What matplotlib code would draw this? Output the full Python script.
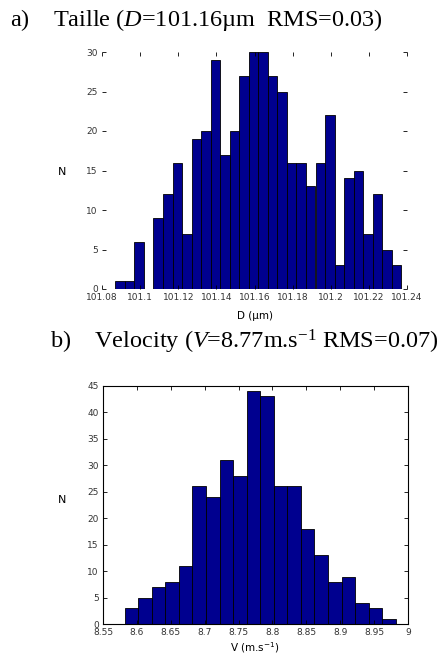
import numpy as np
import matplotlib
matplotlib.use("Agg")
import matplotlib.pyplot as plt

# ---- data ----
d_start = 101.087
d_width = 0.005
d_counts = [1, 1, 6, 0, 9, 12, 16, 7, 19, 20, 29, 17, 20, 27, 30, 30, 27, 25,
            16, 16, 13, 16, 22, 3, 14, 15, 7, 12, 5, 3]
d_ticks = [101.08, 101.10, 101.12, 101.14, 101.16, 101.18, 101.20, 101.22, 101.24]
d_ticklabels = ["101.08", "101.1", "101.12", "101.14", "101.16", "101.18", "101.2", "101.22", "101.24"]
d_yticks = [0, 5, 10, 15, 20, 25, 30]

v_start = 8.582
v_width = 0.02
v_counts = [3, 5, 7, 8, 11, 26, 24, 31, 28, 44, 43, 26, 26, 18, 13, 8, 9, 4, 3, 1]
v_ticks = [8.55, 8.6, 8.65, 8.7, 8.75, 8.8, 8.85, 8.9, 8.95, 9.0]
v_ticklabels = ["8.55", "8.6", "8.65", "8.7", "8.75", "8.8", "8.85", "8.9", "8.95", "9"]
v_yticks = [0, 5, 10, 15, 20, 25, 30, 35, 40, 45]

title_a = r"a)    Taille ($\mathit{D}$=101.16µm  RMS=0.03)"
title_b = r"b)    Velocity ($\mathit{V}$=8.77m.s$^{\mathregular{-1}}$ RMS=0.07)"

plt.rcParams['mathtext.fontset'] = 'custom'
plt.rcParams['mathtext.rm'] = 'Liberation Serif'
plt.rcParams['mathtext.it'] = 'Liberation Serif:italic'

W, H = 444, 658
fig = plt.figure(figsize=(W / 100, H / 100), dpi=100)

bar_color = "#00008f"

def edges(start, width, n):
    return start + width * np.arange(n)

# top axes
ax1 = fig.add_axes([102 / W, 1 - 289 / H, 305 / W, 237 / H])
x1 = edges(d_start, d_width, len(d_counts))
ax1.bar(x1, d_counts, width=d_width, align='edge', color=bar_color,
        edgecolor='black', linewidth=0.6)
ax1.set_xlim(101.08, 101.24)
ax1.set_ylim(0, 30)
ax1.set_xticks(d_ticks)
ax1.set_xticklabels(d_ticklabels)
ax1.set_yticks(d_yticks)
for s in ax1.spines.values():
    s.set_visible(False)

# bottom axes
ax2 = fig.add_axes([103 / W, 1 - 624.3 / H, 305 / W, 238.6 / H])
x2 = edges(v_start, v_width, len(v_counts))
ax2.bar(x2, v_counts, width=v_width, align='edge', color=bar_color,
        edgecolor='black', linewidth=0.6)
ax2.set_xlim(8.55, 9.0)
ax2.set_ylim(0, 45)
ax2.set_xticks(v_ticks)
ax2.set_xticklabels(v_ticklabels)
ax2.set_yticks(v_yticks)
for s in ax2.spines.values():
    s.set_linewidth(0.8)

for ax in (ax1, ax2):
    ax.tick_params(direction='in', length=3, width=0.6, top=True, right=True,
                   labelsize=6.5, labelcolor='#333333', pad=3)

ax1.text(62 / W, 1 - 172 / H, "N", transform=fig.transFigure, fontsize=8,
         ha='center', va='center')
ax2.text(62 / W, 1 - 500 / H, "N", transform=fig.transFigure, fontsize=8,
         ha='center', va='center')
fig.text(255 / W, 1 - 316 / H, "D (µm)", fontsize=7.5, ha='center', va='center')
fig.text(255 / W, 1 - 648 / H, r"V (m.s$^{\mathregular{-1}}$)", fontsize=7.5,
         ha='center', va='center')

fig.text(10 / W, 1 - 20 / H, title_a, fontsize=17.5, family='Liberation Serif',
         ha='left', va='center')
fig.text(50 / W, 1 - 342 / H, title_b, fontsize=17.5, family='Liberation Serif',
         ha='left', va='center')

fig.savefig("out.png", dpi=100)
